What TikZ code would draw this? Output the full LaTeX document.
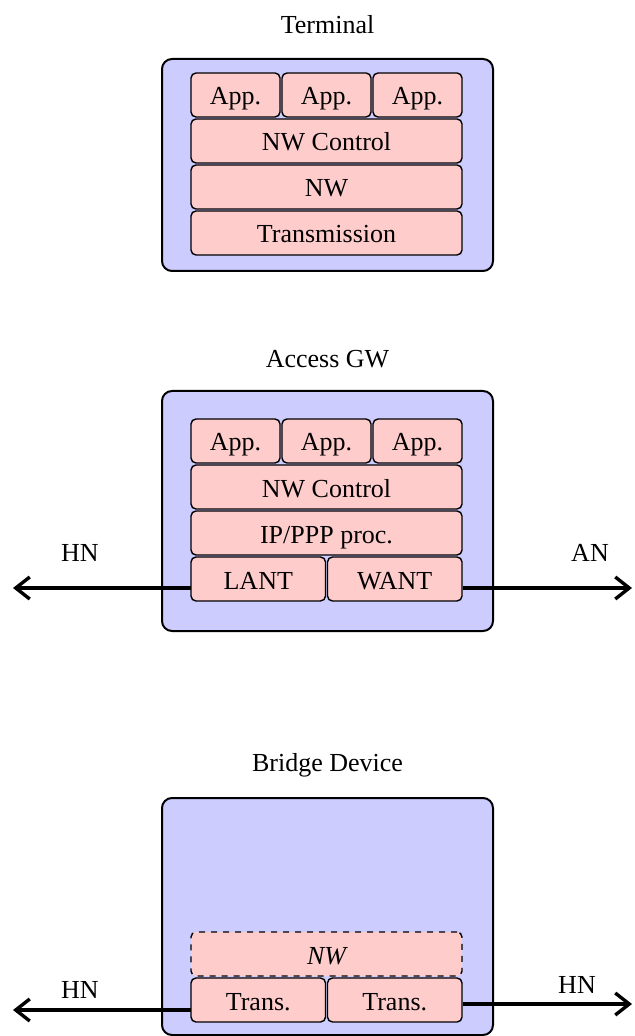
\documentclass[tikz,border=0pt]{standalone}
\usepackage{fontspec}
\setmainfont{Liberation Serif}
\usepackage{tikz}
\usetikzlibrary{arrows.meta}
\usetikzlibrary{positioning}

\definecolor{boxblue}{RGB}{204,204,255}
\definecolor{layerpink}{RGB}{255,204,204}

\tikzset{
	outerbox/.style={draw,fill=boxblue,line width=1pt,rounded corners=5pt,minimum width=165.5pt,inner sep=0pt},
	layer/.style={draw,fill=layerpink,line width=0.7pt,rounded corners=2.5pt,minimum height=22pt,inner sep=0pt,outer sep=0pt,text height=10pt,text depth=0pt},
	wide/.style={minimum width=135.5pt},
	half/.style={minimum width=67.25pt},
	third/.style={minimum width=44.5pt},
	link/.style={line width=1.7pt,-{Straight Barb[length=7pt,width=11pt]}},
}

\begin{document}
\begin{tikzpicture}[x=0.5pt,y=-0.5pt,font=\fontsize{13}{15}\selectfont,node distance=1pt]
	\useasboundingbox (0,0) rectangle (635,1036);
	
	% Terminal
	\node (ttitle) at (327.5,25) {Terminal};
	\node[outerbox,minimum height=106pt] (term) at (327.5,165) {};
	\node[layer,third,below right=7.5pt and 15pt of term.north west] (tapp1) {App.};
	\node[layer,third,right=of tapp1] (tapp2) {App.};
	\node[layer,third,right=of tapp2] (tapp3) {App.};
	\node[layer,wide,below=of tapp2] (tnwc) {NW Control};
	\node[layer,wide,below=of tnwc] (tnw) {NW};
	\node[layer,wide,below=of tnw] (ttrans) {Transmission};
	
	% Access GW
	\node (gtitle) at (327.5,359) {Access GW};
	\node[outerbox,minimum height=120pt] (gw) at (327.5,511) {};
	\coordinate (ghn) at (13,588);
	\coordinate (gan) at (632,588);
	\draw[link] (ghn -| gw.center) ++(-135.5,0) -- (ghn);
	\draw[link] (gan -| gw.center) ++(135.5,0) -- (gan);
	\node[layer,third,below right=14.5pt and 15pt of gw.north west] (gapp1) {App.};
	\node[layer,third,right=of gapp1] (gapp2) {App.};
	\node[layer,third,right=of gapp2] (gapp3) {App.};
	\node[layer,wide,below=of gapp2] (gnwc) {NW Control};
	\node[layer,wide,below=of gnwc] (gip) {IP/PPP proc.};
	\node[layer,half,below right=1pt and 0pt of gip.south west] (glant) {LANT};
	\node[layer,half,right=of glant] (gwant) {WANT};
	\node (ghnl) at (80,553) {HN};
	\node (ganl) at (590,553) {AN};
	
	% Bridge Device
	\node (btitle) at (327.5,765) {Bridge Device};
	\node[outerbox,minimum height=118.5pt] (br) at (327.5,916.5) {};
	\coordinate (bhn) at (13,1010);
	\coordinate (bhn2) at (632,1004);
	\draw[link] (bhn -| br.center) ++(-135.5,0) -- (bhn);
	\draw[link] (bhn2 -| br.center) ++(135.5,0) -- (bhn2);
	\node[layer,wide,dashed,below right=67.5pt and 15pt of br.north west] (bnw) {\itshape NW};
	\node[layer,half,below right=1pt and 0pt of bnw.south west] (btrans1) {Trans.};
	\node[layer,half,right=of btrans1] (btrans2) {Trans.};
	\node (bhnl) at (80,990) {HN};
	\node (bhnr) at (577,985) {HN};
\end{tikzpicture}
\end{document}
